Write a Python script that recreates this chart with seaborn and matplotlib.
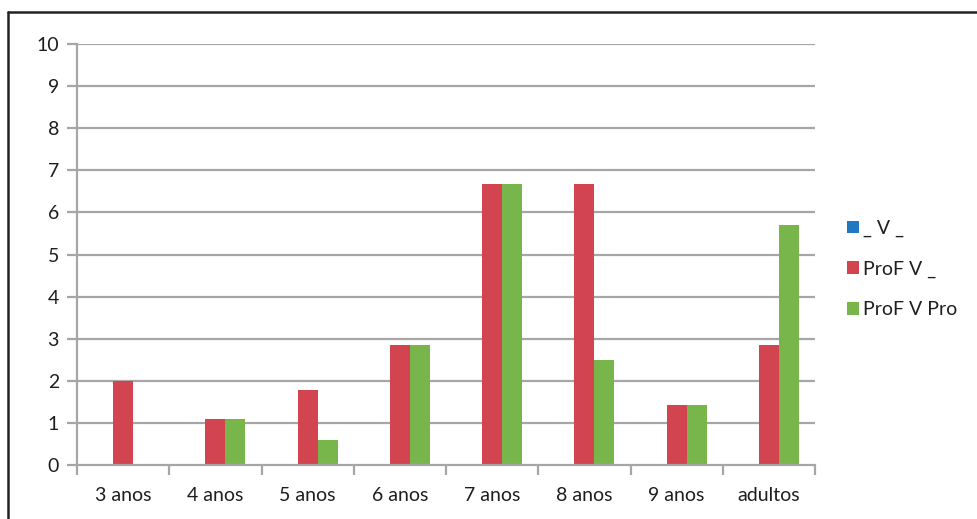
import matplotlib
matplotlib.use("Agg")
import matplotlib.pyplot as plt
from matplotlib.lines import Line2D
from matplotlib.patches import Patch
import numpy as np
import pandas as pd
import seaborn as sns

categories = ["3 anos", "4 anos", "5 anos", "6 anos", "7 anos", "8 anos", "9 anos", "adultos"]
series_names = ["_ V _", "ProF V _", "ProF V Pro"]
v_blank = [0, 0, 0, 0, 0, 0, 0, 0]
prof_v = [2.0, 1.1, 1.78, 2.85, 6.67, 6.67, 1.43, 2.86]
prof_v_pro = [0, 1.1, 0.6, 2.85, 6.67, 2.5, 1.43, 5.71]
y_ticks = list(range(0, 11))

colors = ["#1f78c1", "#d2444f", "#78b64c"]

df = pd.DataFrame({
    "categoria": categories * 3,
    "serie": [series_names[0]] * 8 + [series_names[1]] * 8 + [series_names[2]] * 8,
    "valor": v_blank + prof_v + prof_v_pro,
})

sns.set_theme(style="white")
plt.rcParams["font.family"] = ["Lato", "DejaVu Sans"]

W, H = 977, 519
fig = plt.figure(figsize=(W / 100, H / 100), dpi=100)
ax = fig.add_axes([77 / W, 1 - 465 / H, (815 - 77) / W, (465 - 44) / H])

sns.barplot(data=df, x="categoria", y="valor", hue="serie", order=categories,
            hue_order=series_names, palette=colors, width=0.65, linewidth=0,
            saturation=1, errorbar=None, ax=ax, legend=False)

grid_color = "#a6a6a6"
text_color = "#1e1e1e"
fs = 14
ax.set_ylim(0, 10)
ax.set_xlim(-0.5, len(categories) - 0.5)
ax.set_yticks(y_ticks)
ax.set_yticklabels([str(t) for t in y_ticks])
for t in y_ticks[1:]:
    ax.axhline(t, color=grid_color, lw=1.6, zorder=0)
ax.set_xlabel("")
ax.set_ylabel("")

for side in ["top", "right"]:
    ax.spines[side].set_visible(False)
for side in ["left", "bottom"]:
    ax.spines[side].set_color(grid_color)
    ax.spines[side].set_linewidth(1.6)

ax.tick_params(axis="y", left=True, length=7, width=1.6, color=grid_color,
               direction="out", labelsize=fs, labelcolor=text_color, pad=6)
ax.tick_params(axis="x", which="major", bottom=False, labelsize=fs,
               labelcolor=text_color, pad=10)
ax.set_xticks(np.arange(-0.5, len(categories), 1.0), minor=True)
ax.tick_params(axis="x", which="minor", bottom=True, length=7, width=1.6,
               color=grid_color, direction="out")

handles = [Patch(facecolor=c, edgecolor="none") for c in colors]
fig.legend(handles, series_names, loc="center left",
           bbox_to_anchor=(829 / W, 1 - 269 / H), frameon=False,
           fontsize=fs, handlelength=0.62, handleheight=0.62,
           handletextpad=0.25, labelspacing=1.2, labelcolor=text_color)

# frame lines along the top and left edges
fig.add_artist(Line2D([8 / W, 8 / W], [0, 1 - 12 / H], transform=fig.transFigure,
                      color="#222222", lw=1.8))
fig.add_artist(Line2D([8 / W, 1], [1 - 12 / H, 1 - 12 / H], transform=fig.transFigure,
                      color="#222222", lw=1.8))

fig.savefig("out.png", dpi=100)
